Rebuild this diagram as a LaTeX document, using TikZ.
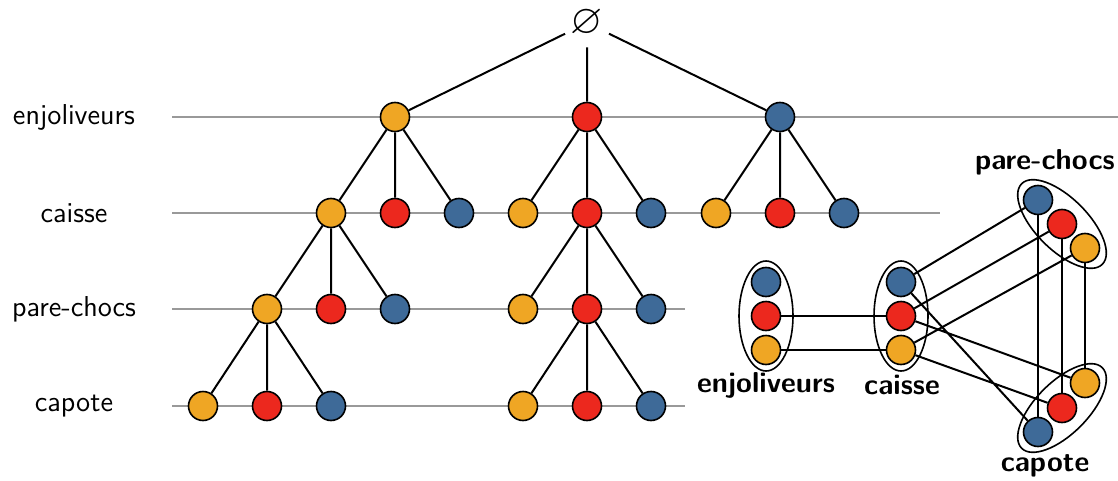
\documentclass[tikz,border=0pt]{standalone}
\usepackage{amssymb}
\usetikzlibrary{shapes.geometric}
\definecolor{orn}{RGB}{239,166,36}
\definecolor{rge}{RGB}{236,40,30}
\definecolor{blu}{RGB}{62,106,152}
\tikzset{
  val/.style={circle,draw=black,line width=0.8pt,fill=#1,minimum size=14.5pt,inner sep=0pt},
  edge/.style={line width=1pt},
  lvl/.style={line width=1.1pt,black!40},
  lab/.style={font=\sffamily\Large},
  grp/.style={ellipse,draw,line width=0.8pt,minimum width=27pt,minimum height=55pt,inner sep=0pt},
  glab/.style={font=\sffamily\bfseries\Large},
}
% three children (orange, red, blue) under a parent node
\newcommand{\kids}[3]{%
  \node[val=orn] (#1o) at ({#2-64},#3) {};
  \node[val=rge] (#1r) at (#2,#3) {};
  \node[val=blu] (#1b) at ({#2+64},#3) {};
  \draw[edge] (#1) -- (#1o) (#1) -- (#1r) (#1) -- (#1b);}

\begin{document}
\begin{tikzpicture}[x=0.5pt,y=-0.5pt]
\useasboundingbox (0,0) rectangle (1118,481);

% levels of the search tree
\node[lab] (lenj) at (74,117) {enjoliveurs};
\node[lab] (lcai) at (74,213) {caisse};
\node[lab] (lpc) at (74,309) {pare-chocs};
\node[lab] (lcap) at (74,406) {capote};
\draw[lvl] (172,117) -- (1118,117);
\draw[lvl] (172,213) -- (940,213);
\draw[lvl] (172,309) -- (685,309);
\draw[lvl] (172,406) -- (685,406);

% search tree
\node[circle,minimum size=24pt,inner sep=0pt,font=\huge] (vide) at (587,23) {$\varnothing$};
\node[val=orn] (o) at (395,117) {};
\node[val=rge] (r) at (587,117) {};
\node[val=blu] (b) at (780,117) {};
\draw[edge] (vide) -- (o) (vide) -- (r) (vide) -- (b);
\kids{o}{395}{213}
\kids{r}{587}{213}
\kids{b}{780}{213}
\kids{oo}{331}{309}
\kids{rr}{587}{309}
\kids{ooo}{267}{406}
\kids{rrr}{587}{406}

% constraint graph
\node[val=blu] (enjb) at (766,282) {};
\node[val=rge] (enjr) at (766,316) {};
\node[val=orn] (enjo) at (766,350) {};
\node[val=blu] (caib) at (901,282) {};
\node[val=rge] (cair) at (901,316) {};
\node[val=orn] (caio) at (901,350) {};
\node[val=blu] (pcb) at (1038,200) {};
\node[val=rge] (pcr) at (1062,224) {};
\node[val=orn] (pco) at (1085,248) {};
\node[val=orn] (capo) at (1085,383) {};
\node[val=rge] (capr) at (1062,408) {};
\node[val=blu] (capb) at (1038,432) {};

\node[grp] (genj) at (766,316) {};
\node[grp] (gcai) at (901,316) {};
\node[grp,rotate=-45,minimum width=57pt,minimum height=26pt] (gpc) at (1062,224) {};
\node[grp,rotate=45,minimum width=57pt,minimum height=26pt] (gcap) at (1062,408) {};

\draw[edge] (enjr) -- (cair) (enjo) -- (caio);
\draw[edge] (caib) -- (pcb) (cair) -- (pcr) (caio) -- (pco);
\draw[edge] (caib) -- (capb) (cair) -- (capo) (caio) -- (capr);
\draw[edge] (pcb) -- (capb) (pcr) -- (capr) (pco) -- (capo);

\node[glab] (tenj) at (766,385) {enjoliveurs};
\node[glab] (tcai) at (902,385) {caisse};
\node[glab] (tpc) at (1045,162) {pare-chocs};
\node[glab] (tcap) at (1045,466) {capote};
\end{tikzpicture}
\end{document}
